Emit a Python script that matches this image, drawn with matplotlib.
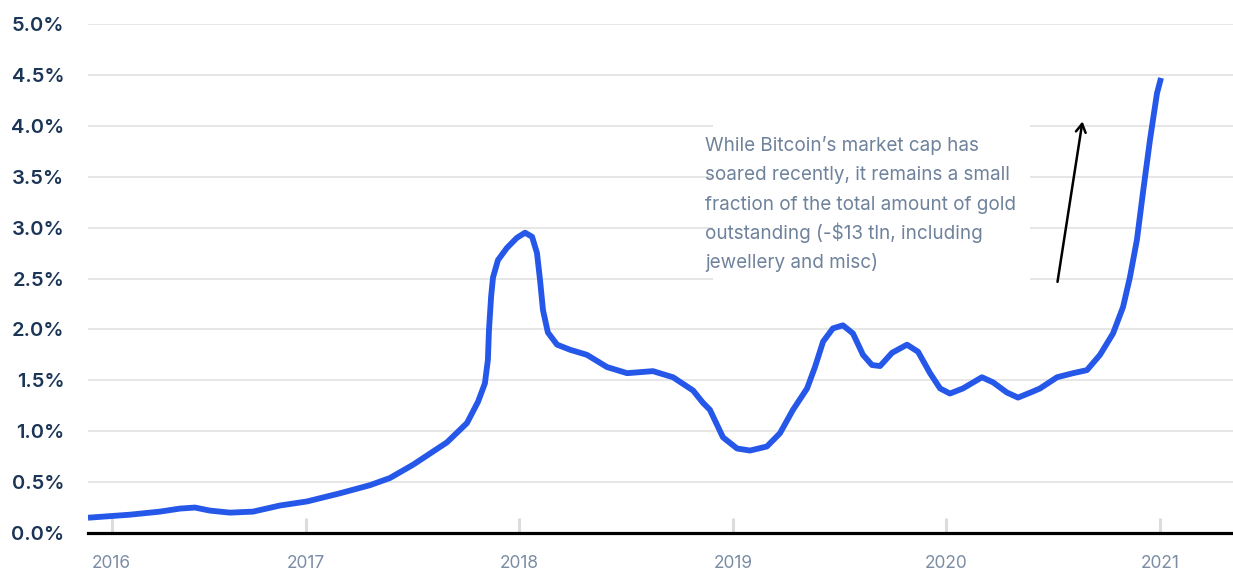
import matplotlib.pyplot as plt
from matplotlib.patches import Rectangle

# Bitcoin market cap as share of gold outstanding (%)
years = [2015.979, 2016.176, 2016.316, 2016.410, 2016.480, 2016.550, 2016.644, 2016.752,
         2016.878, 2017.005, 2017.159, 2017.300, 2017.393, 2017.501, 2017.660, 2017.754,
         2017.806, 2017.838, 2017.852, 2017.857, 2017.867, 2017.876, 2017.899, 2017.941,
         2017.988, 2018.026, 2018.059, 2018.082, 2018.096, 2018.110, 2018.133, 2018.176,
         2018.237, 2018.316, 2018.410, 2018.504, 2018.625, 2018.719, 2018.813, 2018.859,
         2018.892, 2018.953, 2019.019, 2019.080, 2019.159, 2019.220, 2019.281, 2019.347,
         2019.384, 2019.422, 2019.468, 2019.515, 2019.562, 2019.609, 2019.651, 2019.689,
         2019.745, 2019.815, 2019.867, 2019.923, 2019.970, 2020.016, 2020.077, 2020.166,
         2020.218, 2020.283, 2020.335, 2020.405, 2020.438, 2020.518, 2020.593, 2020.658,
         2020.719, 2020.780, 2020.827, 2020.859, 2020.892, 2020.920, 2020.953, 2020.986,
         2021.005]
share = [0.15, 0.18, 0.21, 0.24, 0.25, 0.22, 0.20, 0.21,
         0.27, 0.31, 0.39, 0.47, 0.54, 0.67, 0.89, 1.08,
         1.29, 1.47, 1.70, 1.99, 2.32, 2.51, 2.68, 2.80,
         2.90, 2.95, 2.91, 2.75, 2.49, 2.19, 1.97, 1.85,
         1.80, 1.75, 1.63, 1.57, 1.59, 1.53, 1.40, 1.28,
         1.21, 0.94, 0.83, 0.81, 0.85, 0.98, 1.21, 1.42,
         1.63, 1.88, 2.01, 2.04, 1.96, 1.75, 1.65, 1.64,
         1.77, 1.85, 1.78, 1.57, 1.42, 1.37, 1.42, 1.53,
         1.48, 1.38, 1.33, 1.39, 1.42, 1.53, 1.57, 1.60,
         1.75, 1.96, 2.22, 2.51, 2.88, 3.34, 3.86, 4.32,
         4.47]

year_ticks = [2016.09, 2017, 2018, 2019, 2020, 2021]
year_labels = ['2016', '2017', '2018', '2019', '2020', '2021']
pct_ticks = [0, 0.5, 1.0, 1.5, 2.0, 2.5, 3.0, 3.5, 4.0, 4.5, 5.0]

note_lines = ['While Bitcoin\u2019s market cap has',
              'soared recently, it remains a small',
              'fraction of the total amount of gold',
              'outstanding (-$13 tln, including',
              'jewellery and misc)']

plt.rcParams['font.family'] = ['Inter', 'DejaVu Sans']

fig = plt.figure(figsize=(12.33, 5.76), dpi=100)
ax = fig.add_axes([88 / 1233, 43 / 576, 1145 / 1233, 509 / 576])

ax.plot(years, share, color='#2557e8', lw=4.2, solid_capstyle='butt',
        solid_joinstyle='round', zorder=3)

ax.set_xlim(2015.979, 2021.342)
ax.set_ylim(0, 5.0)
ax.set_yticks(pct_ticks)
ax.set_yticklabels(['%.1f%%' % v for v in pct_ticks])
ax.set_xticks(year_ticks)
ax.set_xticklabels(year_labels)

ax.grid(axis='y', color='#e4e4e4', lw=1.3)
ax.set_axisbelow(True)
for s in ['top', 'right', 'left']:
    ax.spines[s].set_visible(False)
ax.spines['bottom'].set_color('black')
ax.spines['bottom'].set_linewidth(2.3)
ax.spines['bottom'].set_zorder(4)

ax.tick_params(axis='y', length=0, pad=17, labelsize=14.5, labelcolor='#1b3556')
for lab in ax.get_yticklabels():
    lab.set_fontweight('semibold')
ax.tick_params(axis='x', direction='in', length=11, width=2.2, color='#dcdcdc',
               pad=16, labelsize=12.5, labelcolor='#7b8da4')

# white panel behind the note hides the gridlines
ax.add_patch(Rectangle((0.546, 0.477), 0.277, 0.374, transform=ax.transAxes,
                       facecolor='white', edgecolor='none', zorder=1.5))
for i, line in enumerate(note_lines):
    ax.text(0.539, 0.7505 - i * 0.0576, line, transform=ax.transAxes,
            ha='left', va='baseline', fontsize=13.6, color='#6f829b', zorder=2)

ax.annotate('', xy=(2020.639, 4.07), xytext=(2020.518, 2.44),
            arrowprops=dict(arrowstyle='->,head_length=0.6,head_width=0.35',
                            color='black', lw=1.8), zorder=3)

fig.savefig('out.png', dpi=100)
